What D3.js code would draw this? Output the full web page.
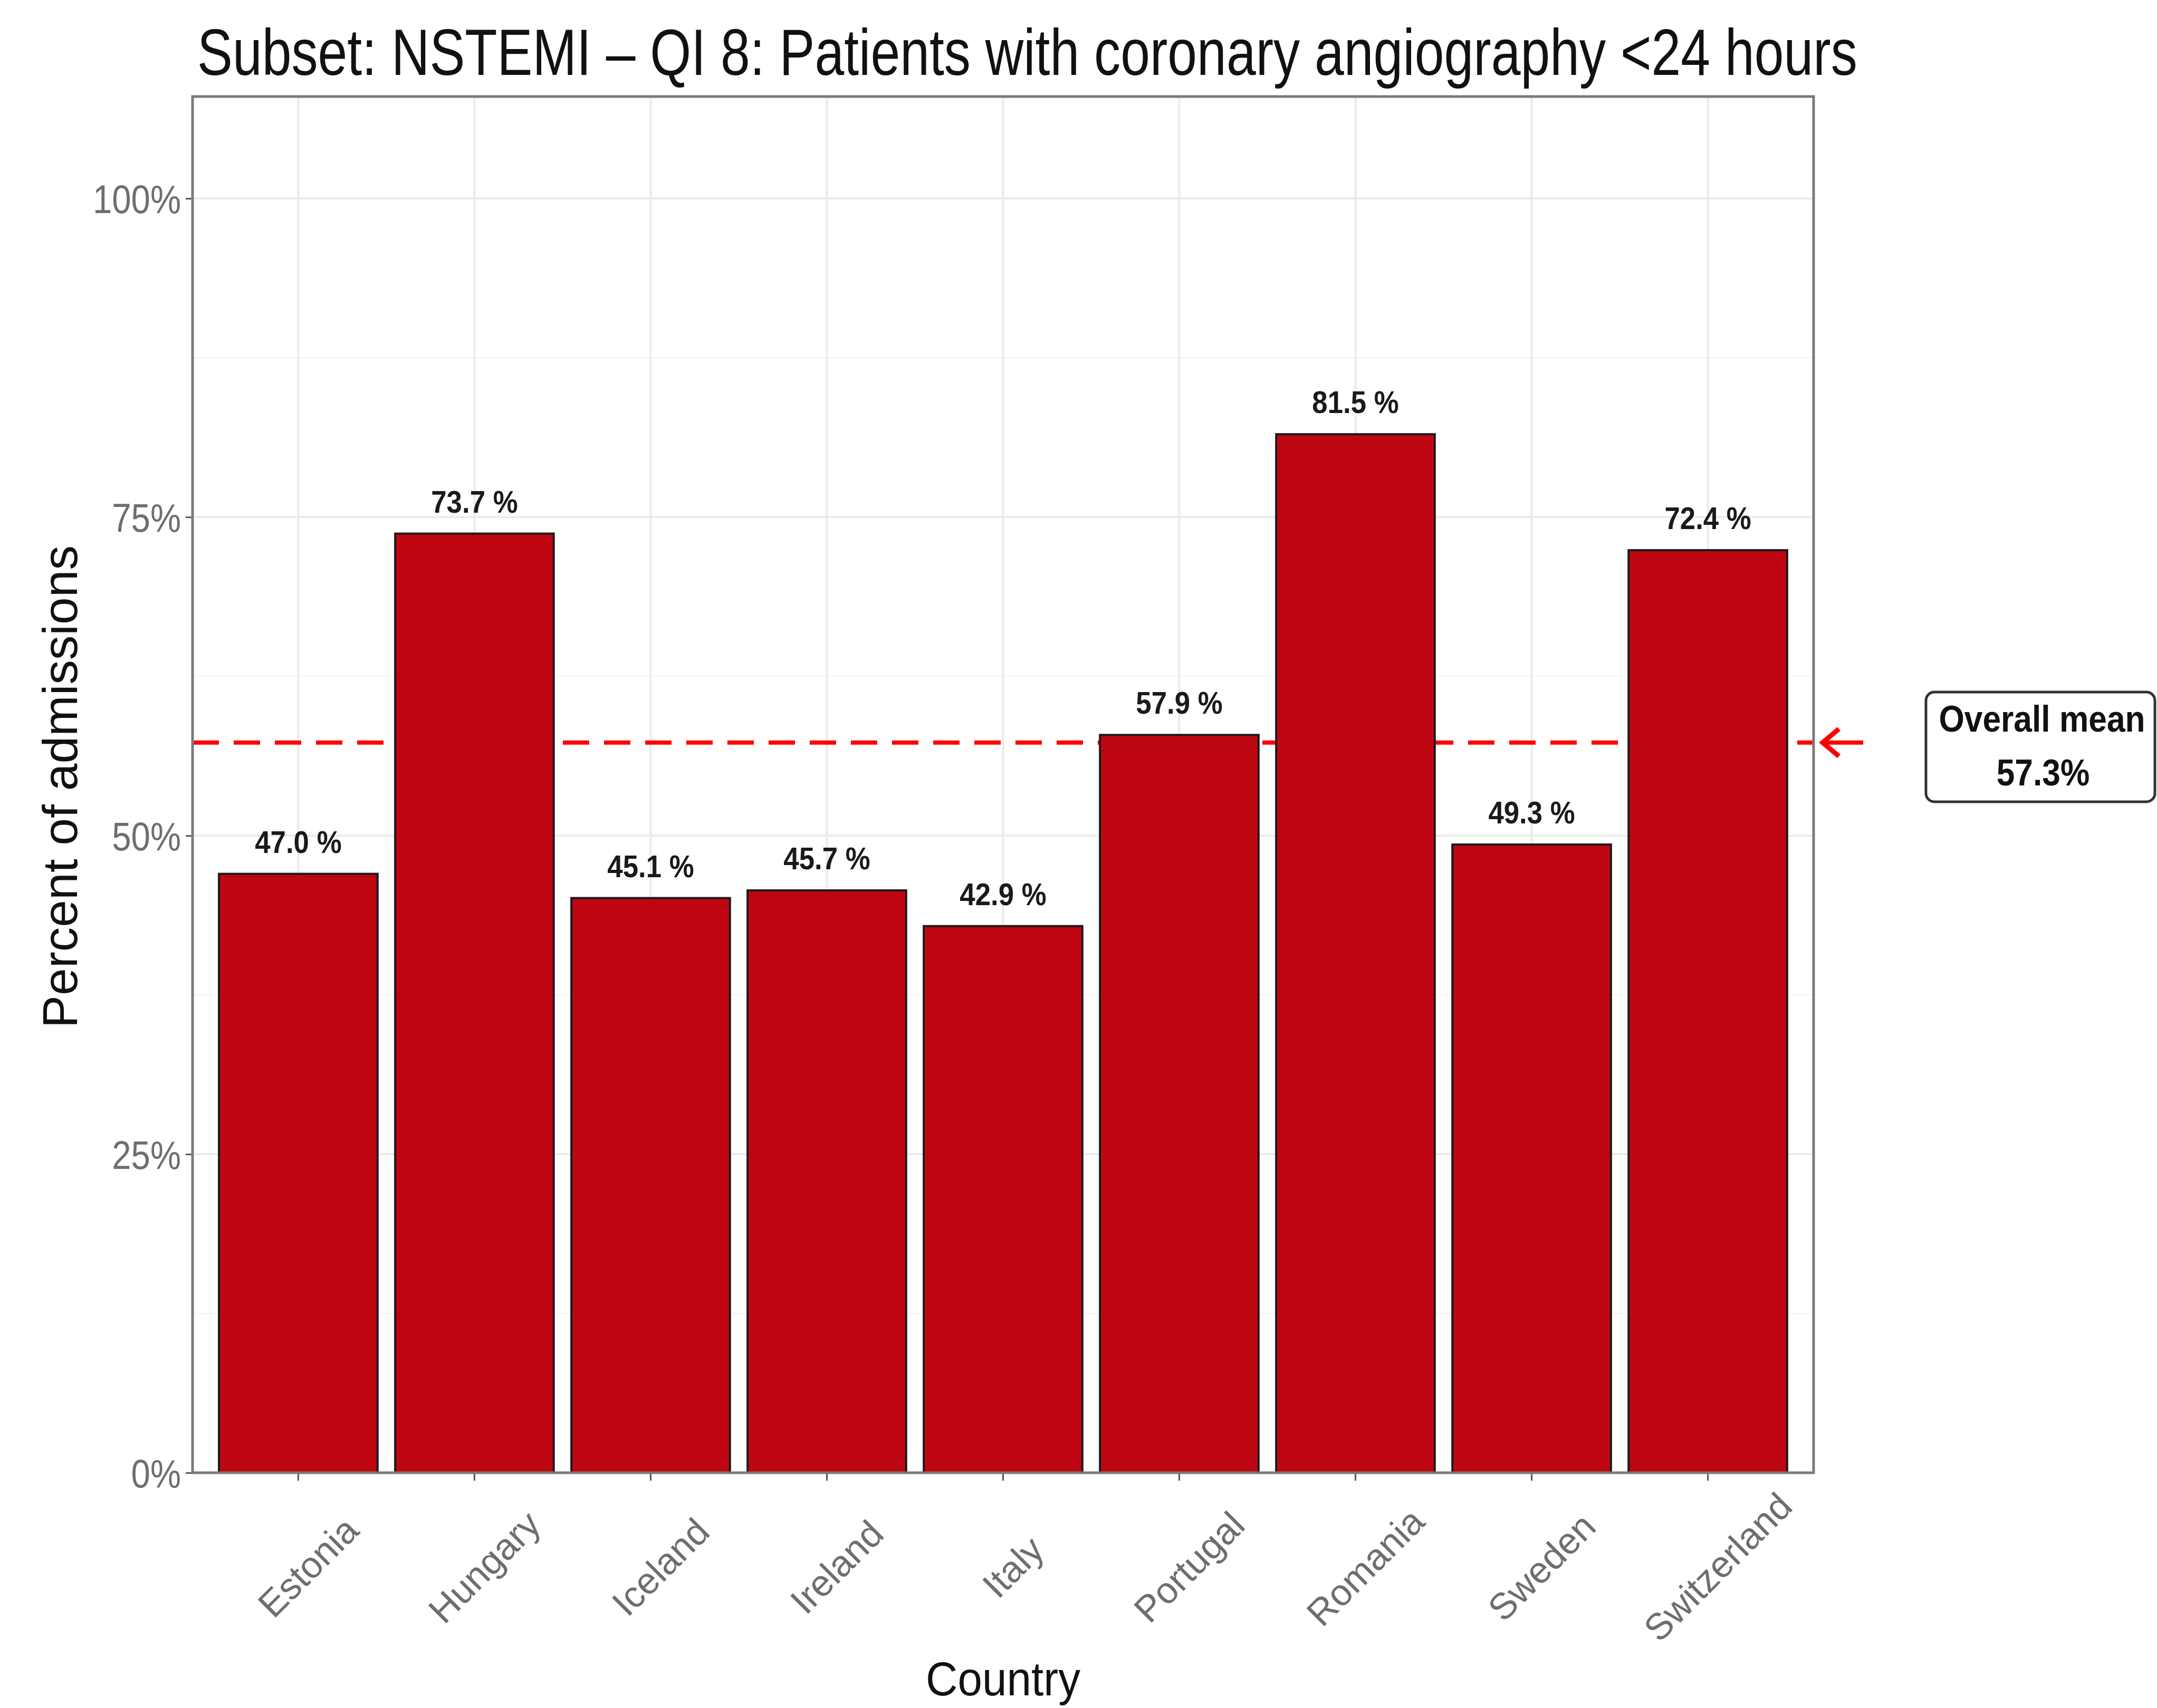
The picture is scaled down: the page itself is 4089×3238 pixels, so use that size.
<!DOCTYPE html>
<html>
<head>
<meta charset="utf-8">
<script src="https://cdn.jsdelivr.net/npm/d3@7"></script>
<style>
  body { margin: 0; background: #fff; }
  text { font-family: "Liberation Sans", Arial, sans-serif; }
</style>
</head>
<body>
<div id="chart"></div>
<script>
// data
const countries = ["Estonia", "Hungary", "Iceland", "Ireland", "Italy", "Portugal", "Romania", "Sweden", "Switzerland"];
const values = [47.0, 73.7, 45.1, 45.7, 42.9, 57.9, 81.5, 49.3, 72.4];
const overallMean = 57.3;
const yTicks = [0, 25, 50, 75, 100];
const yMinorTicks = [12.5, 37.5, 62.5, 87.5];

const W = 4089, H = 3238;
const panel = { left: 365, top: 183, right: 3438, bottom: 2792 };

// the source picture is a bit squeezed sideways, so text gets narrowed to match
function squish(sel, k) {
  sel.each(function() {
    const t = d3.select(this);
    const tx = +t.attr("x") || 0, ty = +t.attr("y") || 0;
    t.attr("x", 0).attr("y", 0)
     .attr("transform", "translate(" + tx + "," + ty + ") scale(" + k + ",1)");
  });
}

const svg = d3.select("#chart").append("svg")
  .attr("width", W)
  .attr("height", H);

svg.append("rect").attr("width", W).attr("height", H).attr("fill", "#fff");

const x = d3.scaleBand()
  .domain(countries)
  .range([panel.left, panel.right])
  .paddingInner(0.1)
  .paddingOuter(0.15);

const y = d3.scaleLinear()
  .domain([0, 108])
  .range([panel.bottom, panel.top]);

// grid
const grid = svg.append("g");
grid.selectAll(".minor")
  .data(yMinorTicks)
  .enter().append("line")
  .attr("x1", panel.left).attr("x2", panel.right)
  .attr("y1", d => y(d)).attr("y2", d => y(d))
  .style("stroke", "#f2f2f2").style("stroke-width", 2);
grid.selectAll(".major")
  .data(yTicks)
  .enter().append("line")
  .attr("x1", panel.left).attr("x2", panel.right)
  .attr("y1", d => y(d)).attr("y2", d => y(d))
  .style("stroke", "#ebebeb").style("stroke-width", 4);
grid.selectAll(".vert")
  .data(countries)
  .enter().append("line")
  .attr("x1", d => x(d) + x.bandwidth() / 2).attr("x2", d => x(d) + x.bandwidth() / 2)
  .attr("y1", panel.top).attr("y2", panel.bottom)
  .style("stroke", "#ebebeb").style("stroke-width", 4);

// overall mean line (sits under the bars)
svg.append("line")
  .attr("x1", panel.left).attr("x2", panel.right)
  .attr("y1", y(overallMean)).attr("y2", y(overallMean))
  .style("stroke", "#ff0000")
  .style("stroke-width", 8)
  .style("stroke-dasharray", "50,28");

// bars
svg.selectAll(".bar")
  .data(countries)
  .enter().append("rect")
  .attr("x", d => x(d))
  .attr("y", (d, i) => y(values[i]))
  .attr("width", x.bandwidth())
  .attr("height", (d, i) => y(0) - y(values[i]))
  .style("fill", "#be0712")
  .style("stroke", "#1a1a1a")
  .style("stroke-width", 4);

// value labels
const labels = svg.selectAll(".lab")
  .data(countries)
  .enter().append("text")
  .attr("x", d => x(d) + x.bandwidth() / 2)
  .attr("y", (d, i) => y(values[i]) - 40)
  .attr("text-anchor", "middle")
  .style("font-size", "60px")
  .style("font-weight", "bold")
  .style("fill", "#1a1a1a")
  .text((d, i) => values[i].toFixed(1) + " %");
squish(labels, 0.88);

// y axis
const yAxis = svg.append("g")
  .attr("transform", "translate(" + panel.left + ",0)")
  .call(d3.axisLeft(y).tickValues(yTicks).tickFormat(d => d + "%").tickSize(13).tickPadding(9));
yAxis.select(".domain").remove();
yAxis.selectAll("line").style("stroke", "#555").style("stroke-width", 3);
yAxis.selectAll("text")
  .attr("dy", "0.36em")
  .style("font-size", "76px")
  .style("fill", "#6e6e6e")
  .style("font-family", "'Liberation Sans', Arial, sans-serif");
squish(yAxis.selectAll("text"), 0.86);

// x axis
const xAxis = svg.append("g")
  .attr("transform", "translate(0," + panel.bottom + ")")
  .call(d3.axisBottom(x).tickSize(15));
xAxis.select(".domain").remove();
xAxis.selectAll("line").style("stroke", "#555").style("stroke-width", 3);
xAxis.selectAll("text")
  .attr("x", 0).attr("y", 0).attr("dy", null)
  .attr("text-anchor", "middle")
  .attr("transform", "translate(36,196) rotate(-45)")
  .style("font-size", "70px")
  .style("fill", "#6e6e6e")
  .style("font-family", "'Liberation Sans', Arial, sans-serif");

// panel border on top
svg.append("rect")
  .attr("x", panel.left).attr("y", panel.top)
  .attr("width", panel.right - panel.left)
  .attr("height", panel.bottom - panel.top)
  .style("fill", "none")
  .style("stroke", "#7a7a7a")
  .style("stroke-width", 5);

// titles
const title = svg.append("text")
  .attr("x", 374).attr("y", 142)
  .style("font-size", "124px")
  .style("fill", "#111")
  .text("Subset: NSTEMI \u2013 QI 8: Patients with coronary angiography <24 hours");
squish(title, 3147 / title.node().getComputedTextLength());

svg.append("text")
  .attr("transform", "translate(146," + ((panel.top + panel.bottom) / 2 + 4) + ") rotate(-90)")
  .attr("text-anchor", "middle")
  .style("font-size", "93px")
  .style("fill", "#111")
  .text("Percent of admissions");

const xTitle = svg.append("text")
  .attr("x", (panel.left + panel.right) / 2)
  .attr("y", 3214)
  .attr("text-anchor", "middle")
  .style("font-size", "90px")
  .style("fill", "#111")
  .text("Country");
squish(xTitle, 0.93);

// arrow pointing at the mean line
const ay = y(overallMean);
svg.append("line")
  .attr("x1", 3532).attr("x2", 3458)
  .attr("y1", ay).attr("y2", ay)
  .style("stroke", "#ff0000").style("stroke-width", 8);
svg.append("path")
  .attr("d", "M" + 3486 + "," + (ay - 26) + " L3455," + ay + " L" + 3486 + "," + (ay + 26))
  .style("fill", "none")
  .style("stroke", "#ff0000")
  .style("stroke-width", 9)
  .style("stroke-linejoin", "miter");

// mean label box
svg.append("rect")
  .attr("x", 3651).attr("y", 1312)
  .attr("width", 434).attr("height", 208)
  .attr("rx", 16).attr("ry", 16)
  .style("fill", "#fff")
  .style("stroke", "#333")
  .style("stroke-width", 5);

const boxText = svg.append("g");
boxText.append("text")
  .attr("x", 3871).attr("y", 1387)
  .attr("text-anchor", "middle")
  .style("font-size", "70px").style("font-weight", "bold").style("fill", "#111")
  .text("Overall mean");
boxText.append("text")
  .attr("x", 3873).attr("y", 1489)
  .attr("text-anchor", "middle")
  .style("font-size", "70px").style("font-weight", "bold").style("fill", "#111")
  .text(overallMean.toFixed(1) + "%");
squish(boxText.selectAll("text"), 0.89);
</script>
</body>
</html>
